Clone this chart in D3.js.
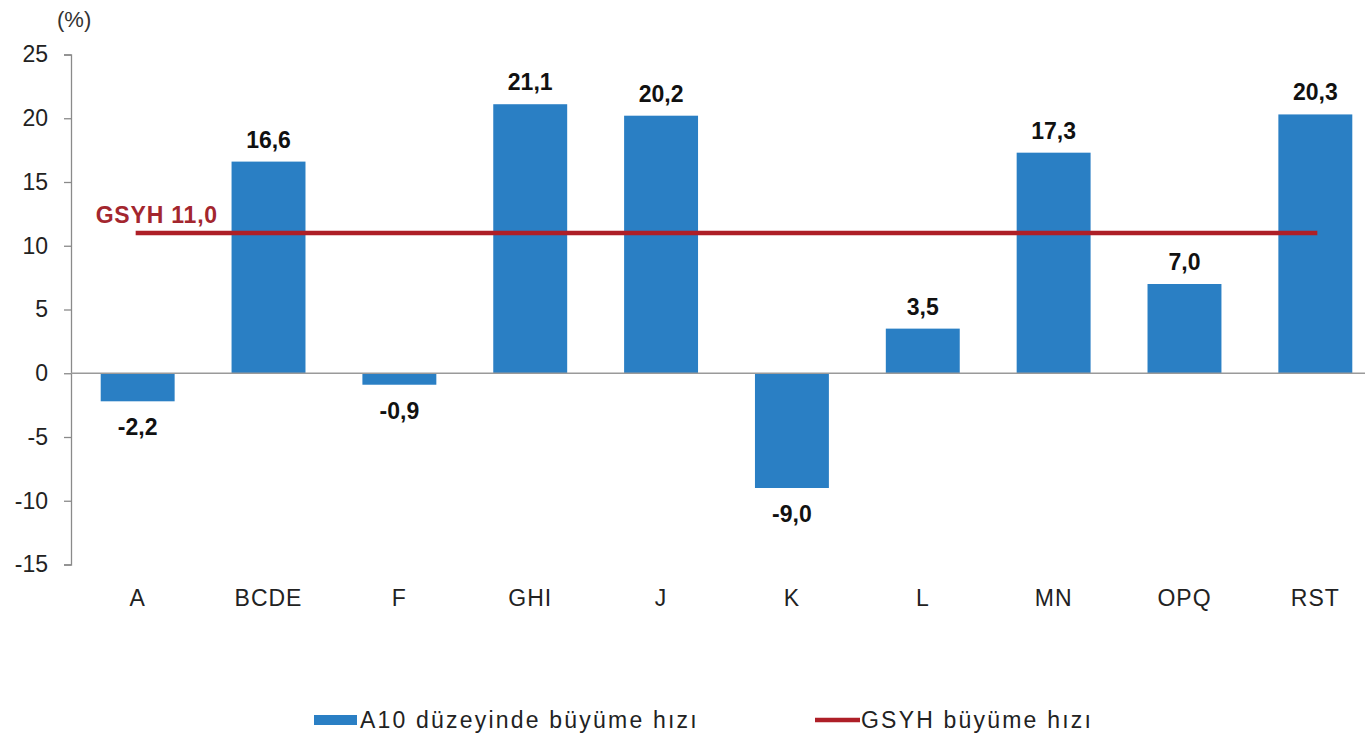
<!DOCTYPE html>
<html>
<head>
<meta charset="utf-8">
<script src="https://cdn.jsdelivr.net/npm/d3@7"></script>
<style>
  html, body { margin: 0; padding: 0; background: #fff; }
  svg { display: block; font-family: "Liberation Sans", Arial, sans-serif; }
</style>
</head>
<body>
<svg id="chart" width="1365" height="748"></svg>
<script>
const categories = ["A", "BCDE", "F", "GHI", "J", "K", "L", "MN", "OPQ", "RST"];
const growth = [-2.2, 16.6, -0.9, 21.1, 20.2, -9.0, 3.5, 17.3, 7.0, 20.3];
const gdpGrowth = 11.0;
const yTicks = [-15, -10, -5, 0, 5, 10, 15, 20, 25];
const seriesNames = ["A10 düzeyinde büyüme hızı", "GSYH büyüme hızı"];
const unitLabel = "(%)";

const barColor = "#2A7FC4";
const lineColor = "#AE1F27";
const fmt = v => v.toFixed(1).replace(".", ",");

const svg = d3.select("#chart");

const x = d3.scaleBand().domain(categories).range([71, 1382])
  .paddingInner(0.435).paddingOuter(0.227);
const y = d3.scaleLinear().domain([-15, 25]).range([564.5, 54.5]);

// Y axis
const yAxis = d3.axisLeft(y).tickValues(yTicks).tickSize(7).tickPadding(16)
  .tickFormat(d => String(d));
const gy = svg.append("g").attr("transform", "translate(71,0)").call(yAxis);
gy.select(".domain").attr("stroke", "#8a8a8a").attr("stroke-width", 1.3);
gy.selectAll(".tick line").attr("stroke", "#8a8a8a").attr("stroke-width", 1.3);
gy.selectAll(".tick text").attr("font-size", 23).attr("fill", "#222")
  .attr("font-family", "Liberation Sans, Arial, sans-serif");

svg.append("text").attr("x", 57).attr("y", 27).attr("font-size", 22)
  .attr("fill", "#333").text(unitLabel);

// Bars
svg.append("g").selectAll("rect").data(categories).join("rect")
  .attr("x", d => x(d))
  .attr("width", x.bandwidth())
  .attr("y", (d, i) => y(Math.max(0, growth[i])))
  .attr("height", (d, i) => Math.abs(y(growth[i]) - y(0)))
  .attr("fill", barColor);

// Zero line
svg.append("line").attr("x1", 71).attr("x2", 1365)
  .attr("y1", y(0)).attr("y2", y(0))
  .attr("stroke", "#9a9a9a").attr("stroke-width", 1.5);

// Value labels
svg.append("g").selectAll("text").data(categories).join("text")
  .attr("x", d => x(d) + x.bandwidth() / 2)
  .attr("y", (d, i) => growth[i] >= 0 ? y(growth[i]) - 14 : y(growth[i]) + 34)
  .attr("text-anchor", "middle")
  .attr("font-size", 23).attr("font-weight", "bold").attr("fill", "#111")
  .text((d, i) => fmt(growth[i]));

// Category labels
svg.append("g").selectAll("text").data(categories).join("text")
  .attr("x", d => x(d) + x.bandwidth() / 2)
  .attr("y", 606)
  .attr("text-anchor", "middle")
  .attr("font-size", 23).attr("fill", "#222").attr("letter-spacing", 1)
  .text(d => d);

// GSYH line
const xc0 = x(categories[0]) + x.bandwidth() / 2;
const xc1 = x(categories[categories.length - 1]) + x.bandwidth() / 2;
svg.append("line").attr("x1", xc0 - 2).attr("x2", xc1 + 2)
  .attr("y1", y(gdpGrowth)).attr("y2", y(gdpGrowth))
  .attr("stroke", lineColor).attr("stroke-width", 4.5);

svg.append("text").attr("x", xc0 - 42).attr("y", y(gdpGrowth) - 10)
  .attr("font-size", 23).attr("font-weight", "bold").attr("fill", "#A3262E")
  .attr("letter-spacing", 0.8)
  .text("GSYH " + fmt(gdpGrowth));

// Legend
const lg = svg.append("g");
lg.append("rect").attr("x", 314).attr("y", 715).attr("width", 43).attr("height", 10)
  .attr("fill", barColor);
lg.append("text").attr("x", 360).attr("y", 728).attr("font-size", 23)
  .attr("fill", "#222").attr("letter-spacing", 2.2).text(seriesNames[0]);
lg.append("line").attr("x1", 815).attr("x2", 860).attr("y1", 720).attr("y2", 720)
  .attr("stroke", lineColor).attr("stroke-width", 4.5);
lg.append("text").attr("x", 861).attr("y", 728).attr("font-size", 23)
  .attr("fill", "#222").attr("letter-spacing", 2.2).text(seriesNames[1]);
</script>
</body>
</html>
